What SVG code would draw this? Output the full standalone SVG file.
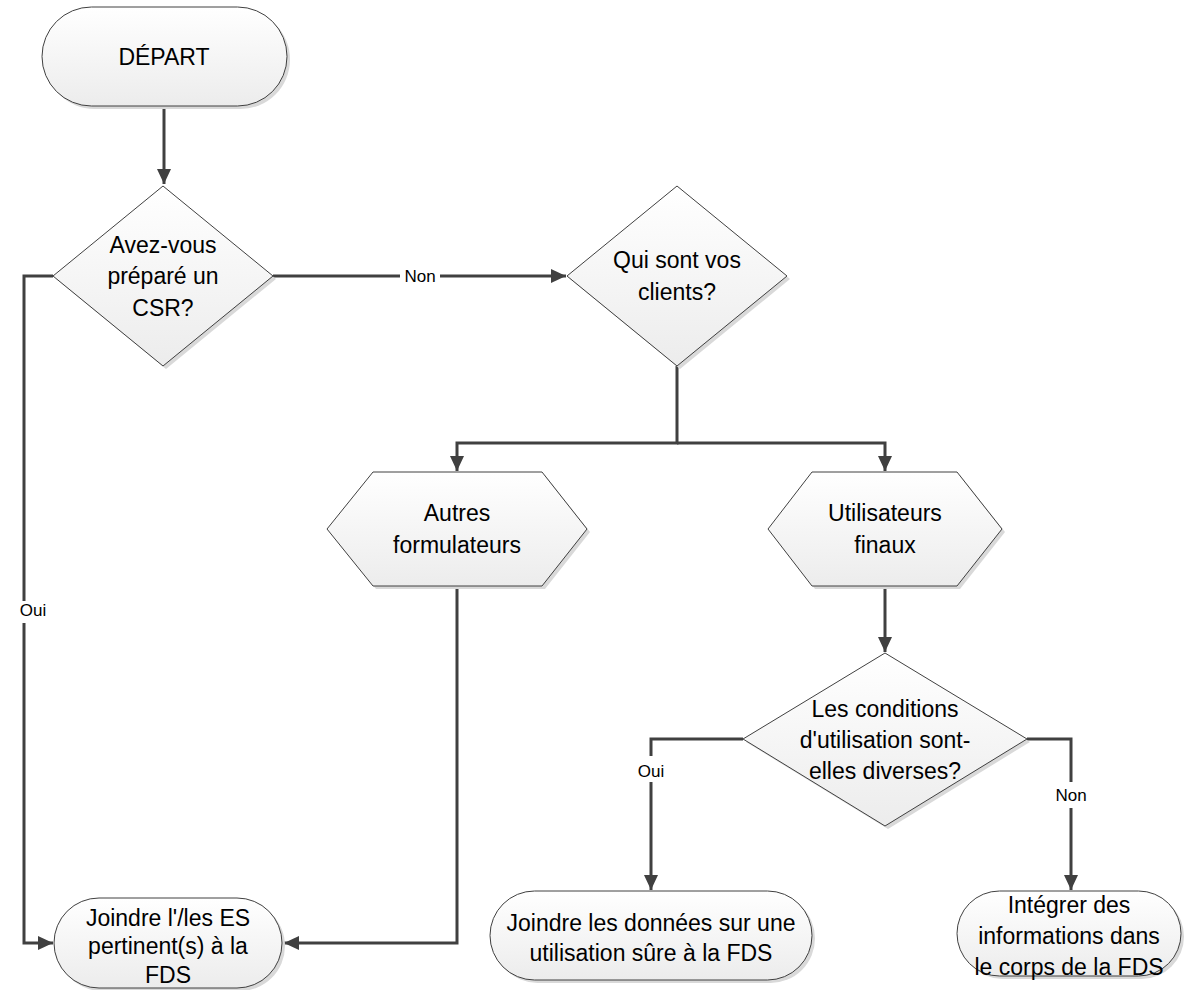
<svg xmlns="http://www.w3.org/2000/svg" width="1186" height="990" viewBox="0 0 1186 990">
<defs>
<linearGradient id="fillg" x1="0" y1="0" x2="0" y2="1">
<stop offset="0" stop-color="#ffffff"/>
<stop offset="1" stop-color="#ececec"/>
</linearGradient>
<marker id="arr" markerUnits="userSpaceOnUse" markerWidth="16" markerHeight="16" viewBox="0 0 16 16" refX="15" refY="8" orient="auto">
<path d="M0,1 L15,8 L0,15 Z" fill="#404040"/>
</marker>
</defs>
<style>
.shape{fill:url(#fillg);stroke:#404040;stroke-width:1}
.shadow{fill:#d9d9d9;stroke:none}
.t{font-family:"Liberation Sans",Arial,sans-serif;font-size:23px;fill:#000;text-anchor:middle}
.lbl{font-family:"Liberation Sans",Arial,sans-serif;font-size:17px;fill:#000;text-anchor:middle}
.c{fill:none;stroke:#404040;stroke-width:3}
.bg{fill:#ffffff}
</style>
<rect width="1186" height="990" fill="#ffffff"/>

<g id="connectors">
<path class="c" d="M164,106 V184" marker-end="url(#arr)"/>
<path class="c" d="M273,276 H566" marker-end="url(#arr)"/>
<path class="c" d="M677,366 V443 H457 V471" marker-end="url(#arr)"/>
<path class="c" d="M677,443 H885 V471" marker-end="url(#arr)"/>
<path class="c" d="M457,586 V943 H284" marker-end="url(#arr)"/>
<path class="c" d="M53,276 H24 V943 H53" marker-end="url(#arr)"/>
<path class="c" d="M885,586 V652" marker-end="url(#arr)"/>
<path class="c" d="M743,739 H651 V890" marker-end="url(#arr)"/>
<path class="c" d="M1027,739 H1071 V890" marker-end="url(#arr)"/>
<rect class="bg" x="400" y="265" width="40" height="22"/>
<text class="lbl" x="420" y="282">Non</text>
<rect class="bg" x="14" y="601" width="24" height="22"/>
<text class="lbl" x="33" y="616">Oui</text>
<rect class="bg" x="638" y="756" width="26" height="26"/>
<text class="lbl" x="651" y="777">Oui</text>
<rect class="bg" x="1050" y="782" width="42" height="26"/>
<text class="lbl" x="1071" y="801">Non</text>
</g>

<g id="depart">
<rect class="shadow" x="45" y="10" width="245" height="99" rx="49.5"/>
<rect class="shape" x="42" y="7" width="245" height="99" rx="49.5"/>
<text class="t" x="164" y="65">DÉPART</text>
</g>

<g id="q-csr">
<polygon class="shadow" points="166,189 276,279 166,369 56,279"/>
<polygon class="shape" points="163,186 273,276 163,366 53,276"/>
<text class="t" x="163" y="253">Avez-vous</text>
<text class="t" x="163" y="284">préparé un</text>
<text class="t" x="163" y="316">CSR?</text>
</g>

<g id="q-clients">
<polygon class="shadow" points="680,189 790,279 680,369 570,279"/>
<polygon class="shape" points="677,186 787,276 677,366 567,276"/>
<text class="t" x="677" y="268">Qui sont vos</text>
<text class="t" x="677" y="300">clients?</text>
</g>

<g id="autres-formulateurs">
<polygon class="shadow" points="376,475 545,475 590,532 545,589 376,589 330,532"/>
<polygon class="shape" points="373,472 542,472 587,529 542,586 373,586 327,529"/>
<text class="t" x="457" y="521">Autres</text>
<text class="t" x="457" y="553">formulateurs</text>
</g>

<g id="utilisateurs-finaux">
<polygon class="shadow" points="815,475 960,475 1005,532 960,589 815,589 771,532"/>
<polygon class="shape" points="812,472 957,472 1002,529 957,586 812,586 768,529"/>
<text class="t" x="885" y="521">Utilisateurs</text>
<text class="t" x="885" y="553">finaux</text>
</g>

<g id="q-conditions">
<polygon class="shadow" points="888,656 1030,742 888,829 746,742"/>
<polygon class="shape" points="885,653 1027,739 885,826 743,739"/>
<text class="t" x="885" y="717">Les conditions</text>
<text class="t" x="885" y="748">d'utilisation sont-</text>
<text class="t" x="885" y="779">elles diverses?</text>
</g>

<g id="joindre-es">
<rect class="shadow" x="57" y="901" width="228" height="90" rx="45"/>
<rect class="shape" x="54" y="898" width="228" height="90" rx="45"/>
<text class="t" x="168" y="926">Joindre l'/les ES</text>
<text class="t" x="168" y="954">pertinent(s) à la</text>
<text class="t" x="168" y="983">FDS</text>
</g>

<g id="joindre-donnees">
<rect class="shadow" x="493" y="894" width="322" height="89" rx="44.5"/>
<rect class="shape" x="490" y="891" width="322" height="89" rx="44.5"/>
<text class="t" x="651" y="931">Joindre les données sur une</text>
<text class="t" x="651" y="961">utilisation sûre à la FDS</text>
</g>

<g id="integrer">
<rect class="shadow" x="960" y="894" width="224" height="85" rx="42.5"/>
<rect class="shape" x="957" y="891" width="224" height="85" rx="42.5"/>
<text class="t" x="1069" y="913">Intégrer des</text>
<text class="t" x="1069" y="944">informations dans</text>
<text class="t" x="1069" y="975">le corps de la FDS</text>
</g>
</svg>
